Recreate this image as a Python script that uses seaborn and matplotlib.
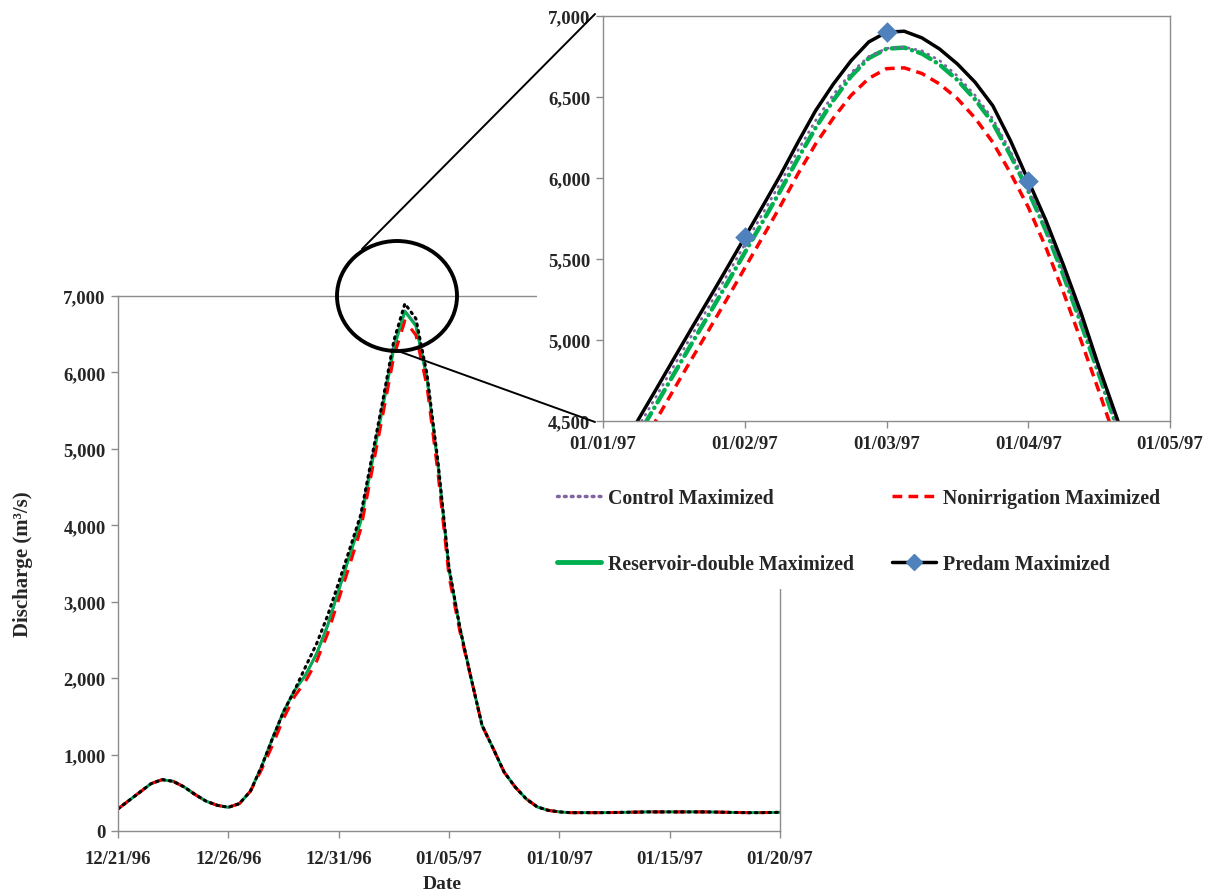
import numpy as np
import pandas as pd
import matplotlib
matplotlib.use("Agg")
import matplotlib.pyplot as plt
import seaborn as sns
from matplotlib.patches import Ellipse, Rectangle
from matplotlib.lines import Line2D
from matplotlib.ticker import FuncFormatter

# ---------------- data ----------------
# main hydrograph, half-day steps 12/21/96 .. 01/20/97
dates = pd.date_range("1996-12-21", "1997-01-20", freq="12h")

control_main = [290, 400, 510, 620, 672, 650, 576, 476, 389, 336, 310, 358, 520, 840, 1210, 1560,
                1840, 2040, 2320, 2690, 3150, 3620, 4093, 4840, 5589, 6355, 6805, 6625, 5935, 4800,
                3430, 2650, 2000, 1380, 1080, 770, 575, 420, 315, 270, 250, 240, 240, 240, 240, 242,
                245, 247, 250, 250, 250, 250, 250, 250, 248, 245, 243, 240, 240, 242, 245]
nonirr_main = [290, 400, 510, 620, 672, 650, 576, 476, 389, 336, 310, 358, 520, 800, 1120, 1470,
               1760, 1960, 2220, 2580, 3030, 3480, 3948, 4695, 5444, 6210, 6675, 6490, 5820, 4680,
               3330, 2600, 2000, 1380, 1080, 770, 575, 420, 315, 270, 250, 240, 240, 240, 240, 242,
               245, 247, 250, 250, 250, 250, 250, 250, 248, 245, 243, 240, 240, 242, 245]
reservoir_main = [290, 400, 510, 620, 672, 650, 576, 476, 389, 336, 310, 358, 520, 840, 1210, 1560,
                  1840, 2040, 2320, 2690, 3150, 3600, 4043, 4790, 5539, 6310, 6798, 6605, 5920, 4785,
                  3420, 2650, 2000, 1380, 1080, 770, 575, 420, 315, 270, 250, 240, 240, 240, 240, 242,
                  245, 247, 250, 250, 250, 250, 250, 250, 248, 245, 243, 240, 240, 242, 245]
predam_main = [290, 400, 510, 620, 672, 650, 576, 476, 389, 336, 310, 358, 520, 840, 1210, 1560,
               1840, 2150, 2450, 2820, 3250, 3690, 4138, 4885, 5634, 6416, 6900, 6704, 5984, 4830,
               3450, 2650, 2000, 1380, 1080, 770, 575, 420, 315, 270, 250, 240, 240, 240, 240, 242,
               245, 247, 250, 250, 250, 250, 250, 250, 248, 245, 243, 240, 240, 242, 245]

# zoomed peak, eighth steps between the inset ticks (01/01/97 .. 01/05/97)
zoom_x = np.linspace(0, 4, 33)
control_zoom = [4093, 4278, 4465, 4651, 4840, 5027, 5212, 5399, 5589, 5778, 5968, 6170, 6355, 6515,
                6650, 6750, 6800, 6808, 6785, 6725, 6630, 6510, 6365, 6165, 5940, 5695, 5415, 5115,
                4800, 4475, 4160, 3830, 3430]
nonirr_zoom = [3948, 4133, 4320, 4506, 4695, 4882, 5067, 5254, 5444, 5633, 5825, 6025, 6210, 6370,
               6510, 6615, 6675, 6680, 6645, 6580, 6490, 6370, 6220, 6030, 5820, 5570, 5290, 4990,
               4680, 4360, 4050, 3720, 3330]
reservoir_zoom = [4043, 4228, 4415, 4601, 4790, 4977, 5162, 5349, 5539, 5728, 5920, 6120, 6310, 6480,
                  6628, 6740, 6798, 6805, 6768, 6700, 6605, 6485, 6340, 6140, 5920, 5675, 5395, 5095,
                  4785, 4460, 4145, 3820, 3420]
predam_zoom = [4138, 4323, 4510, 4696, 4885, 5072, 5257, 5444, 5634, 5823, 6015, 6220, 6416, 6580,
               6724, 6840, 6900, 6906, 6865, 6796, 6704, 6591, 6446, 6230, 5984, 5737, 5459, 5161,
               4830, 4520, 4200, 3850, 3450]
predam_daily_x = [0, 1, 2, 3, 4]
predam_daily = [4138, 5634, 6900, 5984, 3450]
zoom_labels = ["01/01/97", "01/02/97", "01/03/97", "01/04/97", "01/05/97"]

labels = ["Control Maximized", "Nonirrigation Maximized",
          "Reservoir-double Maximized", "Predam Maximized"]
c_purple, c_red, c_green, c_black, c_blue = "#8064A2", "#FF0000", "#00B050", "#000000", "#4F81BD"

# ---------------- style ----------------
sns.set_style("white")
plt.rcParams['font.family'] = ['Liberation Serif', 'DejaVu Serif']
plt.rcParams['font.weight'] = 'bold'
spine_c = "#8c8c8c"
thousands = FuncFormatter(lambda v, p: f"{v:,.0f}")

W, H = 1213, 895
fig = plt.figure(figsize=(W / 100, H / 100), dpi=100)


def box(x0, y0, x1, y1):
    return [x0 / W, 1 - y1 / H, (x1 - x0) / W, (y1 - y0) / H]


def style_axes(a, xpad):
    for s in a.spines.values():
        s.set_color(spine_c)
        s.set_linewidth(1)
    a.tick_params(bottom=True, left=True, direction='out', length=5, width=1,
                  color=spine_c, labelsize=13.5)
    a.tick_params(axis='x', pad=xpad)
    a.tick_params(axis='y', pad=4)
    for t in a.get_xticklabels() + a.get_yticklabels():
        t.set_fontweight('bold')


# ---------------- main chart ----------------
ax = fig.add_axes(box(118, 297, 780, 832))
ax.set_zorder(0)
sns.lineplot(x=dates, y=control_main, ax=ax, color=c_purple, lw=2, legend=False)
sns.lineplot(x=dates, y=reservoir_main, ax=ax, color=c_green, lw=2, legend=False)
sns.lineplot(x=dates, y=nonirr_main, ax=ax, color=c_red, lw=2.2, linestyle=(0, (4, 3)), legend=False)
sns.lineplot(x=dates, y=predam_main, ax=ax, color=c_black, lw=2.2, linestyle=(0, (0.6, 1.6)),
             dash_capstyle='round', legend=False)

tick_dates = pd.date_range("1996-12-21", periods=7, freq="5D")
ax.set_xlim(dates[0], dates[-1])
ax.set_ylim(0, 7000)
ax.set_xticks(tick_dates)
ax.set_xticklabels([d.strftime("%m/%d/%y") for d in tick_dates])
ax.set_yticks(np.arange(0, 7001, 1000))
ax.yaxis.set_major_formatter(thousands)
style_axes(ax, 9)
ax.set_xlabel("Date", fontsize=14, fontweight='bold')
ax.set_ylabel("Discharge (m³/s)", fontsize=15, fontweight='bold')
ax.xaxis.set_label_coords(0.49, -0.083)
ax.yaxis.set_label_coords(-0.129, 0.5)

# white panel holding the zoom + legend
fig.add_artist(Rectangle((537 / W, 1 - 590 / H), 1 - 537 / W, 590 / H, transform=fig.transFigure,
                         facecolor='white', edgecolor='none', zorder=1))

# ---------------- inset ----------------
axz = fig.add_axes(box(603, 17, 1170, 422))
axz.set_zorder(2)
sns.lineplot(x=zoom_x, y=nonirr_zoom, ax=axz, color=c_red, lw=2.5, linestyle=(0, (2.8, 1.8)), legend=False)
sns.lineplot(x=zoom_x, y=reservoir_zoom, ax=axz, color=c_green, lw=3.2,
             linestyle=(0, (3.2, 1.4, 0.05, 1.4)), dash_capstyle='round', legend=False)
sns.lineplot(x=zoom_x, y=control_zoom, ax=axz, color=c_purple, lw=2.0, linestyle=(0, (0.3, 2.2)),
             dash_capstyle='round', legend=False)
sns.lineplot(x=zoom_x, y=predam_zoom, ax=axz, color=c_black, lw=2.5, legend=False)
sns.scatterplot(x=predam_daily_x, y=predam_daily, ax=axz, color=c_blue, marker='D', s=110,
                edgecolor=c_blue, linewidth=0, zorder=5, legend=False)
axz.set_xlim(0, 4)
axz.set_ylim(4500, 7000)
axz.set_xticks(range(5))
axz.set_xticklabels(zoom_labels)
axz.set_yticks(np.arange(4500, 7001, 500))
axz.yaxis.set_major_formatter(thousands)
style_axes(axz, 5)

# magnifier ellipse and connector lines
fig.add_artist(Ellipse((397 / W, 1 - 297 / H), 120 / W, 110 / H, transform=fig.transFigure,
                       fill=False, edgecolor='black', lw=2.8, zorder=3))
fig.add_artist(Line2D([362 / W, 595 / W], [1 - 250 / H, 1 - 15 / H], transform=fig.transFigure,
                      color='black', lw=1.4, zorder=3))
fig.add_artist(Line2D([398 / W, 595 / W], [1 - 352 / H, 1 - 423 / H], transform=fig.transFigure,
                      color='black', lw=1.4, zorder=3))

# legend (two columns below inset)
handles = [
    Line2D([], [], color=c_purple, lw=2.5, linestyle=(0, (0.5, 1.5)), dash_capstyle='round'),
    Line2D([], [], color=c_green, lw=3.5),
    Line2D([], [], color=c_red, lw=2.5, linestyle=(0, (2.8, 1.8))),
    Line2D([], [], color=c_black, lw=2.5, marker='D', markersize=8, markerfacecolor=c_blue,
           markeredgecolor=c_blue),
]
fig.legend(handles, [labels[0], labels[2], labels[1], labels[3]], ncol=2, loc='upper left',
           bbox_to_anchor=(557 / W, 1 - 489 / H), frameon=False,
           prop={'size': 14.3, 'weight': 'bold'}, handlelength=2.2, handletextpad=0.35,
           columnspacing=1.95, labelspacing=2.3, borderpad=0, borderaxespad=0)

fig.savefig("out.png", dpi=100)
